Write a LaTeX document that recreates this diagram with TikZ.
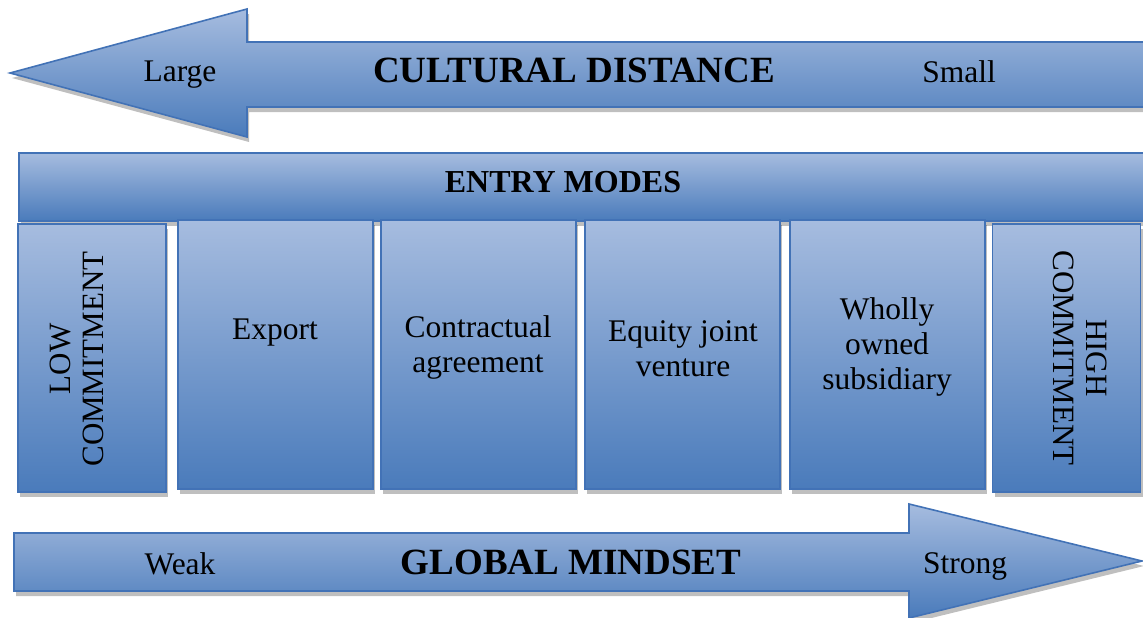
\documentclass[tikz,border=0pt]{standalone}
\usepackage{fontspec}
\setmainfont{Liberation Serif}
\usetikzlibrary{shadows,positioning}
\definecolor{boxtop}{RGB}{166,188,223}
\definecolor{boxbot}{RGB}{74,123,187}
\definecolor{boxline}{RGB}{66,114,182}
\tikzset{
  bluefill/.style={draw=boxline,line width=1.6pt,top color=boxtop,bottom color=boxbot,
    drop shadow={shadow xshift=2pt,shadow yshift=-5pt,fill=black,opacity=0.25}},
  modebox/.style={bluefill,minimum width=195pt,minimum height=269pt,inner sep=0pt},
  endbox/.style={bluefill,minimum width=148pt,minimum height=268pt,inner sep=0pt},
  txt/.style={font={\fontsize{31.5}{35}\selectfont},align=center,inner sep=0pt},
  bigtxt/.style={font={\fontsize{37}{40}\selectfont\bfseries},inner sep=0pt},
}
\begin{document}
\begin{tikzpicture}[x=1pt,y=-1pt]
      \useasboundingbox (0,0) rectangle (1143,618);
      % arrows
      \draw[bluefill] (10,73) -- (247,9) -- (247,42) -- (1150,42) -- (1150,107) -- (247,107) -- (247,137) -- cycle;
      \draw[bluefill] (14,533) -- (909,533) -- (909,504) -- (1142,561) -- (909,618) -- (909,591) -- (14,591) -- cycle;
      \node[txt] (large) at (180,75) {Large};
      \node[bigtxt] (cult) at (574,70) {CULTURAL DISTANCE};
      \node[txt] (small) at (959,72) {Small};
      \node[txt] (weak) at (180,564) {Weak};
      \node[bigtxt] (glob) at (571,562) {GLOBAL MINDSET};
      \node[txt] (strong) at (965,566) {Strong};
      % entry modes
      \node[bluefill,minimum width=1130pt,minimum height=68pt,anchor=north west] (modes) at (18,152) {};
      \node[bigtxt,font={\fontsize{32}{35}\selectfont\bfseries}] at (563,182) {ENTRY MODES};
      \node[endbox] (low) at (92,358) {};
      \node[modebox] (exp) at (275.5,354.5) {};
      \node[modebox] (contr) at (478.5,354.5) {};
      \node[modebox] (equity) at (682.5,354.5) {};
      \node[modebox] (wholly) at (887.5,354.5) {};
      \node[endbox] (high) at (1066.5,358) {};
      \node[txt,rotate=90,font={\fontsize{31}{33}\selectfont}] (lowtxt) at (77,359) {LOW\\COMMITMENT};
      \node[txt,rotate=-90,font={\fontsize{31}{33}\selectfont}] (hightxt) at (1080,358) {HIGH\\COMMITMENT};
      \node[txt] (exptxt) at (275,333) {Export};
      \node[txt] (contrtxt) at (478,347) {Contractual\\agreement};
      \node[txt] (equitytxt) at (683,349) {Equity joint\\venture};
      \node[txt] (whollytxt) at (887,347) {Wholly\\owned\\subsidiary};
\end{tikzpicture}
\end{document}
